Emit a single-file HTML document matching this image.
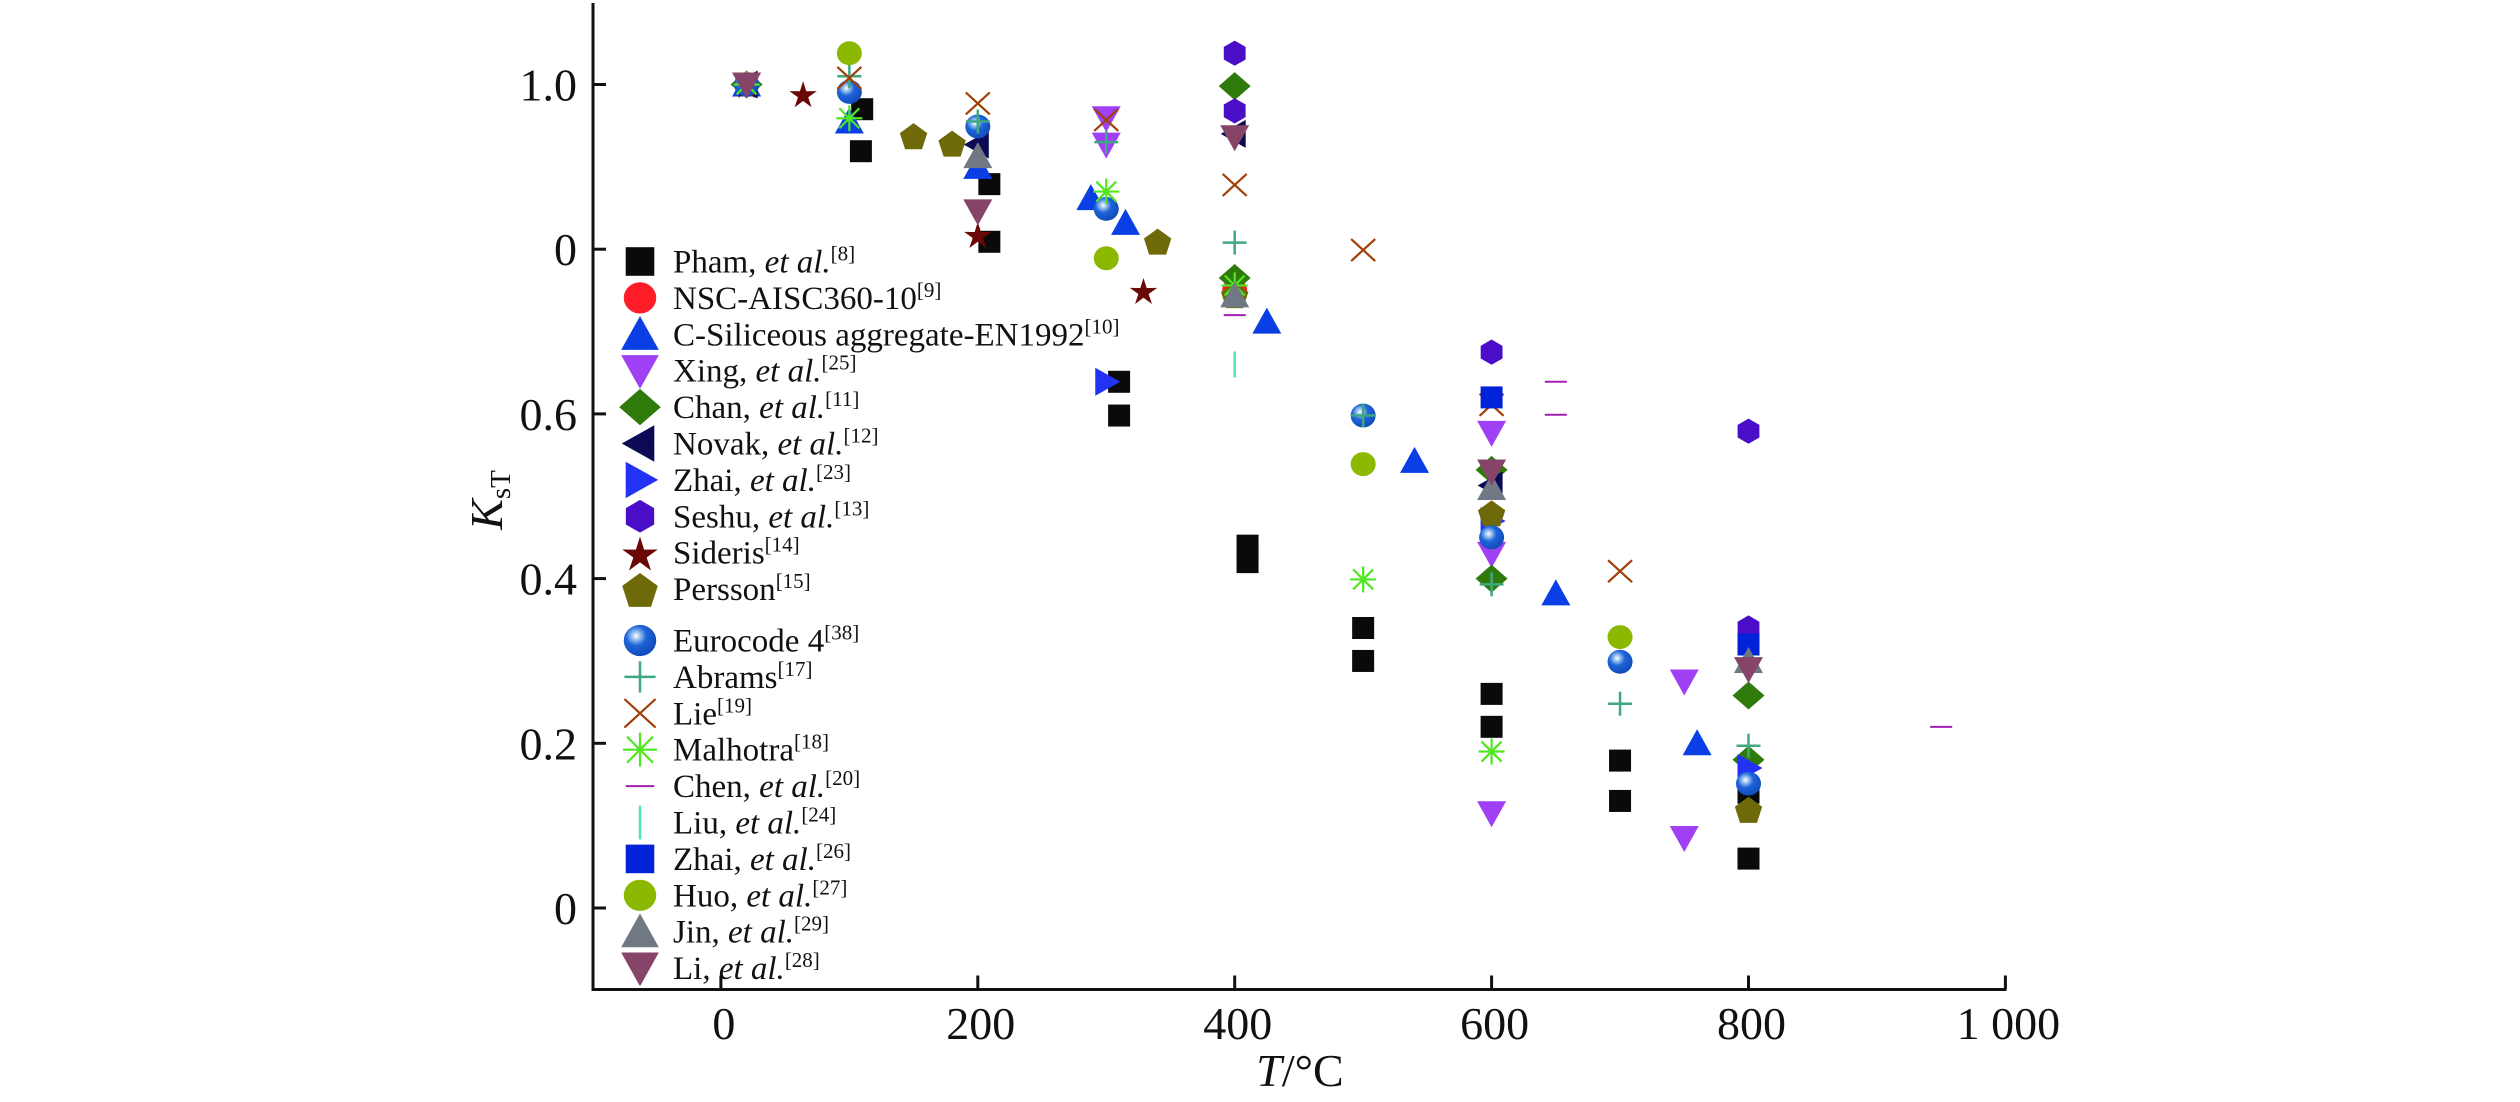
<!DOCTYPE html>
<html><head><meta charset="utf-8"><title>KsT vs T</title>
<style>
html,body{margin:0;padding:0;background:#fff;}
svg{display:block;font-family:"Liberation Serif",serif;}
</style></head>
<body>
<svg id="chart" width="2520" height="1102" viewBox="0 0 2520 1102" xmlns="http://www.w3.org/2000/svg">
<defs>
<radialGradient id="sph" cx="0.38" cy="0.35" r="0.7">
<stop offset="0" stop-color="#ffffff"/><stop offset="0.18" stop-color="#9cc4f0"/><stop offset="0.45" stop-color="#1e64d8"/><stop offset="1" stop-color="#1048b8"/>
</radialGradient>
</defs>
<g id="axes"></g>
<g id="marks"></g>
<g id="legend"></g>
</svg>
<script>
// ---- data ----
const xTicks = [0, 200, 400, 600, 800, 1000];
const xTickLabels = ["0", "200", "400", "600", "800", "1 000"];
const yTicks = [0, 0.2, 0.4, 0.6, 0.8, 1.0];
const yTickLabels = ["0", "0.2", "0.4", "0.6", "0", "1.0"];

const phamT = [110,109,209,209,310,310,410,410,500,500,600,600,700,700,800,800];
const phamK = [0.970,0.919,0.879,0.809,0.639,0.598,0.44,0.42,0.34,0.30,0.26,0.22,0.179,0.13,0.14,0.06];
const nscT = [20,400];
const nscK = [1.0,0.75];
const csilT = [20,100,200,288,315,425,540,650,760];
const csilK = [1.0,0.955,0.90,0.862,0.832,0.712,0.543,0.382,0.20];
const xingT = [20,300,300,600,600,600,750,750];
const xingK = [1.0,0.959,0.927,0.577,0.43,0.115,0.275,0.085];
const chanT = [20,400,400,600,600,800,800];
const chanK = [1.0,0.998,0.765,0.532,0.40,0.258,0.18];
const novakT = [20,200,400,600];
const novakK = [1.0,0.927,0.94,0.513];
const zhai23T = [300,600,800];
const zhai23K = [0.639,0.47,0.17];
const seshuT = [400,400,600,800,800];
const seshuK = [1.038,0.968,0.675,0.579,0.34];
const siderisT = [20,64,200,329];
const siderisK = [1.0,0.989,0.818,0.75];
const perssonT = [150,180,340,400,600,800];
const perssonK = [0.938,0.929,0.81,0.745,0.48,0.12];
const euroT = [20,100,200,300,500,600,700,800];
const euroK = [1.0,0.991,0.949,0.849,0.598,0.45,0.299,0.151];
const abramsT = [100,200,300,400,500,600,700,800];
const abramsK = [1.01,0.955,0.93,0.808,0.598,0.393,0.248,0.197];
const lieT = [100,200,300,400,500,600,700];
const lieK = [1.008,0.977,0.957,0.878,0.799,0.611,0.409];
const malhotraT = [20,100,300,400,500,600];
const malhotraK = [1.0,0.959,0.87,0.756,0.399,0.19];
const chenT = [400,650,650,950];
const chenK = [0.72,0.639,0.599,0.22];
const liuT = [400];
const liuK = [0.66];
const zhai26T = [600,800];
const zhai26K = [0.62,0.32];
const huoT = [100,300,500,700];
const huoK = [1.038,0.789,0.539,0.329];
const jinT = [200,400,600,800];
const jinK = [0.913,0.744,0.51,0.30];
const liT = [20,200,400,600,800];
const liK = [1.0,0.846,0.936,0.53,0.29];

// ---- series definitions (legend order) ----
const series = [
 {id:"pham", name:"Pham, ", it:"et al.", ref:"[8]", shape:"square", color:"#0a0a0a", T:phamT, K:phamK},
 {id:"nsc", name:"NSC-AISC360-10", it:"", ref:"[9]", shape:"circle", color:"#ff1e28", T:nscT, K:nscK},
 {id:"csil", name:"C-Siliceous aggregate-EN1992", it:"", ref:"[10]", shape:"triup", color:"#0a3fe6", T:csilT, K:csilK},
 {id:"xing", name:"Xing, ", it:"et al.", ref:"[25]", shape:"tridown", color:"#a040f5", T:xingT, K:xingK},
 {id:"chan", name:"Chan, ", it:"et al.", ref:"[11]", shape:"diamond", color:"#2e7a0a", T:chanT, K:chanK},
 {id:"novak", name:"Novak, ", it:"et al.", ref:"[12]", shape:"trileft", color:"#0a0a55", T:novakT, K:novakK},
 {id:"zhai23", name:"Zhai, ", it:"et al.", ref:"[23]", shape:"triright", color:"#2233f5", T:zhai23T, K:zhai23K},
 {id:"seshu", name:"Seshu, ", it:"et al.", ref:"[13]", shape:"hex", color:"#4a0ec8", T:seshuT, K:seshuK},
 {id:"sideris", name:"Sideris", it:"", ref:"[14]", shape:"star", color:"#6a0808", T:siderisT, K:siderisK},
 {id:"persson", name:"Persson", it:"", ref:"[15]", shape:"pent", color:"#6e6a0a", T:perssonT, K:perssonK},
 {id:"euro", name:"Eurocode 4", it:"", ref:"[38]", shape:"sphere", color:"#1e64d8", T:euroT, K:euroK},
 {id:"abrams", name:"Abrams", it:"", ref:"[17]", shape:"plus", color:"#40a880", T:abramsT, K:abramsK},
 {id:"lie", name:"Lie", it:"", ref:"[19]", shape:"cross", color:"#a04008", T:lieT, K:lieK},
 {id:"malhotra", name:"Malhotra", it:"", ref:"[18]", shape:"aster", color:"#50e620", T:malhotraT, K:malhotraK},
 {id:"chen", name:"Chen, ", it:"et al.", ref:"[20]", shape:"dash", color:"#a020b0", T:chenT, K:chenK},
 {id:"liu", name:"Liu, ", it:"et al.", ref:"[24]", shape:"vline", color:"#50e8a8", T:liuT, K:liuK},
 {id:"zhai26", name:"Zhai, ", it:"et al.", ref:"[26]", shape:"square", color:"#0022d8", T:zhai26T, K:zhai26K},
 {id:"huo", name:"Huo, ", it:"et al.", ref:"[27]", shape:"circle", color:"#8cb800", T:huoT, K:huoK},
 {id:"jin", name:"Jin, ", it:"et al.", ref:"[29]", shape:"triup", color:"#707884", T:jinT, K:jinK},
 {id:"li", name:"Li, ", it:"et al.", ref:"[28]", shape:"tridown", color:"#864468", T:liT, K:liK}
];

// ---- axis functions ----
const X0 = 720.9, XS = 1.2845;
const Y0 = 908, YS = 823.5;
function xs(t){ return X0 + t*XS; }
function ys(k){ return Y0 - k*YS; }
const NS = "http://www.w3.org/2000/svg";
function el(tag, attrs, parent){
  const e = document.createElementNS(NS, tag);
  for (const a in attrs) e.setAttribute(a, attrs[a]);
  if (parent) parent.appendChild(e);
  return e;
}

// ---- axes ----
const axes = document.getElementById('axes');
const axL = 593, axB = 989.5, axR = 2005, axT = 3;
const yAxis = el('line',{x1:axL,y1:axT,x2:axL,y2:axB+1.5,stroke:'#111','stroke-width':3},axes);


const xAxis = el('line',{x1:axL-1.5,y1:axB,x2:axR+1.5,y2:axB,stroke:'#111','stroke-width':3},axes);


xTicks.forEach((t,i)=>{
  const x = xs(t);
  const tk = el('line',{x1:x,y1:axB,x2:x,y2:axB-14,stroke:'#111','stroke-width':3},axes);
  
  
  const lb = el('text',{x:x+3,y:1039,'font-size':46,'text-anchor':'middle',fill:'#111'},axes);
  lb.textContent = xTickLabels[i];
  
  
});
yTicks.forEach((k,i)=>{
  const y = ys(k);
  const tk = el('line',{x1:axL,y1:y,x2:axL+13,y2:y,stroke:'#111','stroke-width':3},axes);
  
  
  const lb = el('text',{x:577,y:y+16,'font-size':46,'text-anchor':'end',fill:'#111'},axes);
  lb.textContent = yTickLabels[i];
  
  
});
const xt = el('text',{x:1300,y:1086,'font-size':46,'text-anchor':'middle',fill:'#111'},axes);


xt.innerHTML = '<tspan font-style="italic">T</tspan>/°C';
const yt = el('text',{x:0,y:0,'font-size':46,'text-anchor':'middle',fill:'#111',transform:'translate(502,500) rotate(-90)'},axes);


yt.innerHTML = '<tspan font-style="italic">K</tspan><tspan font-size="29" dy="8">sT</tspan>';

// ---- marker drawing ----
function marker(g, shape, color, cx, cy, s){
  let e;
  const r = 12*s;
  switch(shape){
    case 'square': e = el('rect',{x:cx-11*s,y:cy-11*s,width:22*s,height:22*s,fill:color},g); break;
    case 'circle': e = el('ellipse',{cx:cx,cy:cy,rx:12.5*s,ry:12*s,fill:color},g); break;
    case 'sphere': e = el('ellipse',{cx:cx,cy:cy,rx:12.5*s,ry:12*s,fill:'url(#sph)'},g); break;
    case 'triup': e = el('polygon',{points:`${cx},${cy-14*s} ${cx+14.5*s},${cy+12*s} ${cx-14.5*s},${cy+12*s}`,fill:color},g); break;
    case 'tridown': e = el('polygon',{points:`${cx},${cy+14*s} ${cx+14.5*s},${cy-12*s} ${cx-14.5*s},${cy-12*s}`,fill:color},g); break;
    case 'trileft': e = el('polygon',{points:`${cx-14*s},${cy} ${cx+11*s},${cy-14*s} ${cx+11*s},${cy+14*s}`,fill:color},g); break;
    case 'triright': e = el('polygon',{points:`${cx+14*s},${cy} ${cx-11*s},${cy-14*s} ${cx-11*s},${cy+14*s}`,fill:color},g); break;
    case 'diamond': e = el('polygon',{points:`${cx},${cy-14*s} ${cx+16*s},${cy} ${cx},${cy+14*s} ${cx-16*s},${cy}`,fill:color},g); break;
    case 'hex': {
      const p=[]; for(let i=0;i<6;i++){const a=Math.PI/6+i*Math.PI/3; p.push((cx+r*1.05*Math.cos(a))+','+(cy+r*1.05*Math.sin(a)));}
      e = el('polygon',{points:p.join(' '),fill:color},g); break; }
    case 'pent': {
      const p=[]; for(let i=0;i<5;i++){const a=-Math.PI/2+i*2*Math.PI/5; p.push((cx+r*1.2*Math.cos(a))+','+(cy+2*s+r*1.2*Math.sin(a)));}
      e = el('polygon',{points:p.join(' '),fill:color},g); break; }
    case 'star': {
      const p=[]; for(let i=0;i<10;i++){const a=-Math.PI/2+i*Math.PI/5; const rr=(i%2?0.45:1.2)*r; p.push((cx+rr*Math.cos(a))+','+(cy+2*s+rr*Math.sin(a)));}
      e = el('polygon',{points:p.join(' '),fill:color},g); break; }
    case 'plus': e = el('path',{d:`M${cx-12*s},${cy}H${cx+12*s}M${cx},${cy-12*s}V${cy+12*s}`,stroke:color,'stroke-width':2.5,fill:'none'},g); break;
    case 'cross': e = el('path',{d:`M${cx-12*s},${cy-11*s}L${cx+12*s},${cy+11*s}M${cx+12*s},${cy-11*s}L${cx-12*s},${cy+11*s}`,stroke:color,'stroke-width':2.2,fill:'none'},g); break;
    case 'aster': e = el('path',{d:`M${cx-13*s},${cy}H${cx+13*s}M${cx},${cy-13*s}V${cy+13*s}M${cx-10*s},${cy-10*s}L${cx+10*s},${cy+10*s}M${cx+10*s},${cy-10*s}L${cx-10*s},${cy+10*s}`,stroke:color,'stroke-width':2.2,fill:'none'},g); break;
    case 'dash': e = el('line',{x1:cx-11*s,y1:cy,x2:cx+11*s,y2:cy,stroke:color,'stroke-width':2},g); break;
    case 'vline': e = el('line',{x1:cx,y1:cy-13*s,x2:cx,y2:cy+13*s,stroke:color,'stroke-width':2.5},g); break;
  }
  return e;
}

// ---- marks ----
const marks = document.getElementById('marks');
series.forEach(sr=>{
  const g = el('g',{},marks);
  
  
  sr.T.forEach((t,i)=>{
    const m = marker(g, sr.shape, sr.color, xs(t), ys(sr.K[i]), 1);
    
    
  });
});

// ---- legend ----
const legend = document.getElementById('legend');
series.forEach((sr,i)=>{
  const y = 261.5 + i*36.4 + (i>=10 ? 15 : 0);
  const g = el('g',{},legend);
  
  
  const m = marker(g, sr.shape, sr.color, 640, y, 1.3);
  
  
  const tx = el('text',{x:673,y:y+11,'font-size':33,fill:'#111'},g);
  
  
  let h = sr.name;
  if (sr.it) h += '<tspan font-style="italic">'+sr.it+'</tspan>';
  h += '<tspan font-size="21" dy="-12">'+sr.ref+'</tspan>';
  tx.innerHTML = h;
});
</script>
</body></html>
